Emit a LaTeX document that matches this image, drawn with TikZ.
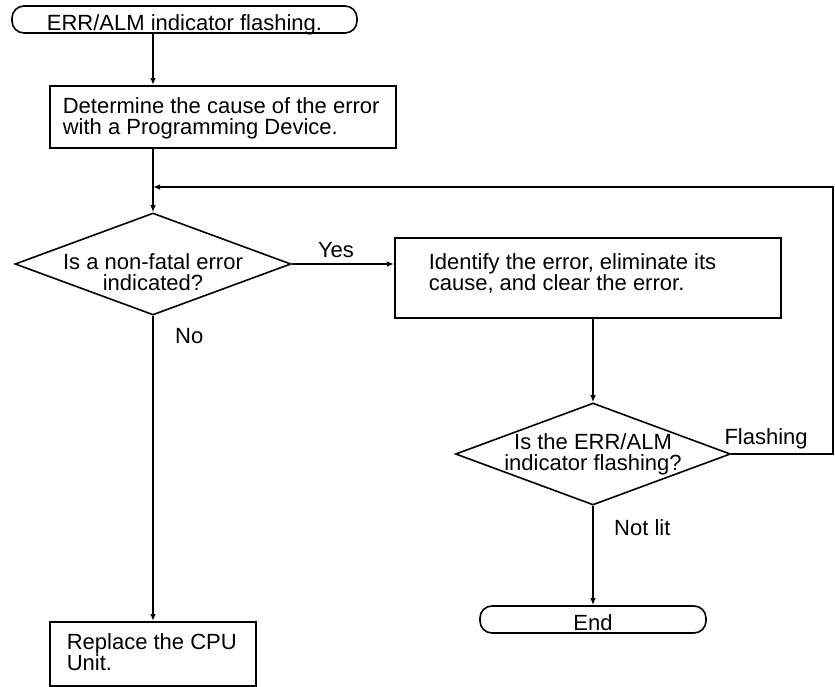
\documentclass[tikz,border=0pt]{standalone}
\usepackage{fontspec}
\setmainfont{Liberation Sans}
\usetikzlibrary{shapes.geometric,arrows.meta}

\tikzset{
        trait/.style={line width=1.6pt},
        fleche/.style={trait, -{Latex[length=7pt,width=5.5pt]}},
        terminal/.style={draw, trait, rounded corners=12pt, minimum height=27pt, inner sep=0pt, text height=22pt, text depth=0pt},
        cadre/.style={draw, trait, inner sep=0pt, anchor=north west},
        decision/.style={draw, trait, diamond, inner sep=0pt},
        etiq/.style={inner sep=0pt, anchor=base west}
}

\begin{document}
\begin{tikzpicture}[x=1pt, y=-1pt, font=\fontsize{22}{21}\selectfont]
        \useasboundingbox (0,0) rectangle (835,686);

        % Debut et recherche de la cause
        \node[terminal, minimum width=345pt] (debut) at (184.5,19.5) {ERR/ALM indicator flashing.};
        \node[cadre, minimum width=346pt, minimum height=62pt] (cause) at (49,85)
                {\parbox[c][62pt][t]{320pt}{\vspace{12pt}Determine the cause of the error\\with a Programming Device.}};

        % Premier test
        \node[decision, minimum width=276pt, minimum height=102pt,
                label={[align=center, yshift=-8pt]center:Is a non-fatal error\\indicated?}] (nonfatal) at (153,264) {};
        \node[cadre, minimum width=386pt, minimum height=80pt] (corriger) at (394,237)
                {\parbox[c][80pt][t]{318pt}{\vspace{16pt}Identify the error, eliminate its\\cause, and clear the error.}};
        \node[cadre, minimum width=206pt, minimum height=64pt] (remplacer) at (49,621)
                {\parbox[c][64pt][t]{172pt}{\vspace{12pt}Replace the CPU\\Unit.}};

        % Second test
        \node[decision, minimum width=275pt, minimum height=102pt,
                label={[align=center]center:Is the ERR/ALM\\indicator flashing?}] (voyant) at (593,454) {};
        \node[terminal, minimum width=226pt] (fin) at (593,619.5) {End};

        \coordinate (retour) at (153,187);
        \coordinate (coin) at (833,187);

        % Liaisons
        \draw[fleche] (debut.south -| retour) -- (cause.north -| retour);
        \draw[fleche] (cause.south -| retour) -- (nonfatal.north);
        \draw[fleche] (nonfatal.east) -- (nonfatal.east -| corriger.west);
        \draw[fleche] (corriger.south -| voyant.north) -- (voyant.north);
        \draw[fleche] (voyant.east) -- (voyant.east -| coin) -- (coin) -- (retour);
        \draw[fleche] (voyant.south) -- (fin.north -| voyant.south);
        \draw[fleche] (nonfatal.south) -- (remplacer.north -| nonfatal.south);

        % Etiquettes
        \node[etiq] (oui) at ([shift={(26,-7)}]nonfatal.east) {Yes};
        \node[etiq] (non) at ([shift={(22,28)}]nonfatal.south) {No};
        \node[etiq] (clignote) at ([shift={(-7,-10)}]voyant.east) {Flashing};
        \node[etiq] (eteint) at ([shift={(21,30)}]voyant.south) {Not lit};
\end{tikzpicture}
\end{document}
